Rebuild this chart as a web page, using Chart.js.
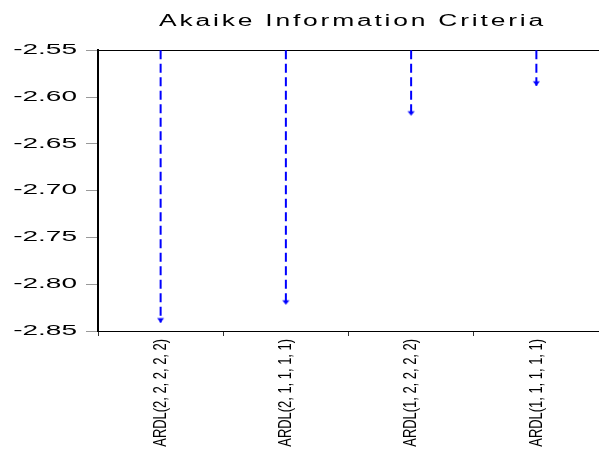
<!DOCTYPE html>
<html>
<head>
<meta charset="utf-8">
<style>
  html, body { margin: 0; padding: 0; background: #fff; overflow: hidden; }
  canvas { display: block; }
</style>
<script src="https://cdn.jsdelivr.net/npm/chart.js@4/dist/chart.umd.min.js"></script>
</head>
<body>
<canvas id="c" width="606" height="450"></canvas>
<script>
// Model specifications and their Akaike information criterion values
const models = ['ARDL(2, 2, 2, 2, 2)', 'ARDL(2, 1, 1, 1, 1)', 'ARDL(1, 2, 2, 2, 2)', 'ARDL(1, 1, 1, 1, 1)'];
const aicValues = [-2.841, -2.822, -2.620, -2.588];
const yTicks = [-2.85, -2.80, -2.75, -2.70, -2.65, -2.60, -2.55];
const yMin = -2.85;
const yMax = -2.55;

const BLUE = '#0000ff';
const SANS = "'Liberation Sans', Arial, sans-serif";

// Small downward arrowhead whose tip sits at the image centre
function makeArrow() {
  const cv = document.createElement('canvas');
  cv.width = 9; cv.height = 12;
  const g = cv.getContext('2d');
  g.fillStyle = BLUE;
  g.beginPath();
  g.moveTo(1, 1.5);
  g.lineTo(8, 1.5);
  g.lineTo(4.5, 6);
  g.closePath();
  g.fill();
  return cv;
}
const arrow = makeArrow();

// One dashed drop line per model, from the top of the axis down to its value
const datasets = models.map((m, i) => ({
  label: m,
  data: [{ x: m, y: yMax }, { x: m, y: aicValues[i] }],
  borderColor: BLUE,
  backgroundColor: BLUE,
  borderWidth: 2,
  borderDash: [9, 4.5],
  pointStyle: (ctx) => ctx.dataIndex === 1 ? arrow : 'circle',
  pointRadius: (ctx) => ctx.dataIndex === 1 ? 5 : 0,
  pointHoverRadius: 0,
  clip: false,
  fill: false
}));

// Scale a layout box's text about an anchor line
function wrapDraw(obj, method, transform) {
  const orig = obj[method].bind(obj);
  obj[method] = function (...args) {
    const ctx = this.ctx;
    ctx.save();
    transform.call(this, ctx);
    orig(...args);
    ctx.restore();
  };
}

// Wide lettering for the title and value axis, compact category labels
const textShapes = {
  id: 'textShapes',
  afterInit(chart) {
    const tb = chart.titleBlock;
    if (tb && !tb._shaped) {
      wrapDraw(tb, 'draw', function (ctx) {
        const ca = chart.chartArea;
        const cx = (ca.left + ca.right) / 2 + 4;
        const bx = (this.left + this.right) / 2;
        ctx.translate(cx, 0);
        ctx.scale(1.65, 1);
        ctx.translate(-bx, 0);
        ctx.letterSpacing = '1.7px';
      });
      tb._shaped = true;
    }
  },
  beforeDraw(chart) {
    const y = chart.scales.y;
    if (y && !y._shaped) {
      wrapDraw(y, 'drawLabels', function (ctx) {
        const ax = this.right - this.options.grid.tickLength - this.options.ticks.padding;
        ctx.translate(ax, 0);
        ctx.scale(2.0, 1);
        ctx.translate(-ax, 0);
      });
      y._shaped = true;
    }
    const x = chart.scales.x;
    if (x && !x._shaped) {
      x._computeLabelArea = function () {
        return { top: this.top, left: 0, bottom: this.chart.height * 4, right: this.chart.width };
      };
      wrapDraw(x, 'drawLabels', function (ctx) {
        const ay = this.top + this.options.grid.tickLength + this.options.ticks.padding;
        ctx.translate(0, ay);
        ctx.scale(1, 0.68);
        ctx.translate(0, -ay);
      });
      x._shaped = true;
    }
  }
};

new Chart(document.getElementById('c'), {
  type: 'line',
  data: { labels: models, datasets },
  plugins: [textShapes],
  options: {
    responsive: false,
    devicePixelRatio: 1,
    animation: false,
    events: [],
    layout: { padding: { left: 0, right: 1, top: 0, bottom: 0 } },
    plugins: {
      legend: { display: false },
      tooltip: { enabled: false },
      title: {
        display: true,
        text: 'Akaike Information Criteria',
        color: '#000',
        font: { family: SANS, size: 16, weight: 'normal', lineHeight: 1.2 },
        padding: { top: 12, bottom: 19 }
      }
    },
    scales: {
      x: {
        type: 'category',
        offset: true,
        afterFit(scale) { scale.height = 119; },
        grid: {
          offset: true,
          drawOnChartArea: false,
          drawTicks: true,
          tickLength: 5,
          tickColor: '#333',
          color: '#333'
        },
        border: { display: true, color: '#000', width: 1 },
        ticks: {
          autoSkip: false,
          minRotation: 90,
          maxRotation: 90,
          padding: 3,
          color: '#000',
          font: { family: SANS, size: 19 }
        }
      },
      y: {
        min: yMin,
        max: yMax,
        afterFit(scale) { scale.width = 98; },
        afterBuildTicks(scale) { scale.ticks = yTicks.map(v => ({ value: v })); },
        grid: {
          drawOnChartArea: true,
          color: (ctx) => (ctx.tick && ctx.tick.value === yMax) ? '#000' : 'rgba(0,0,0,0)',
          tickColor: '#999',
          tickLength: 12,
          lineWidth: 1
        },
        border: { display: true, color: '#000', width: 2 },
        ticks: {
          padding: 9,
          color: '#000',
          font: { family: SANS, size: 14 },
          callback: (v) => Number(v).toFixed(2)
        }
      }
    }
  }
});
</script>
</body>
</html>
